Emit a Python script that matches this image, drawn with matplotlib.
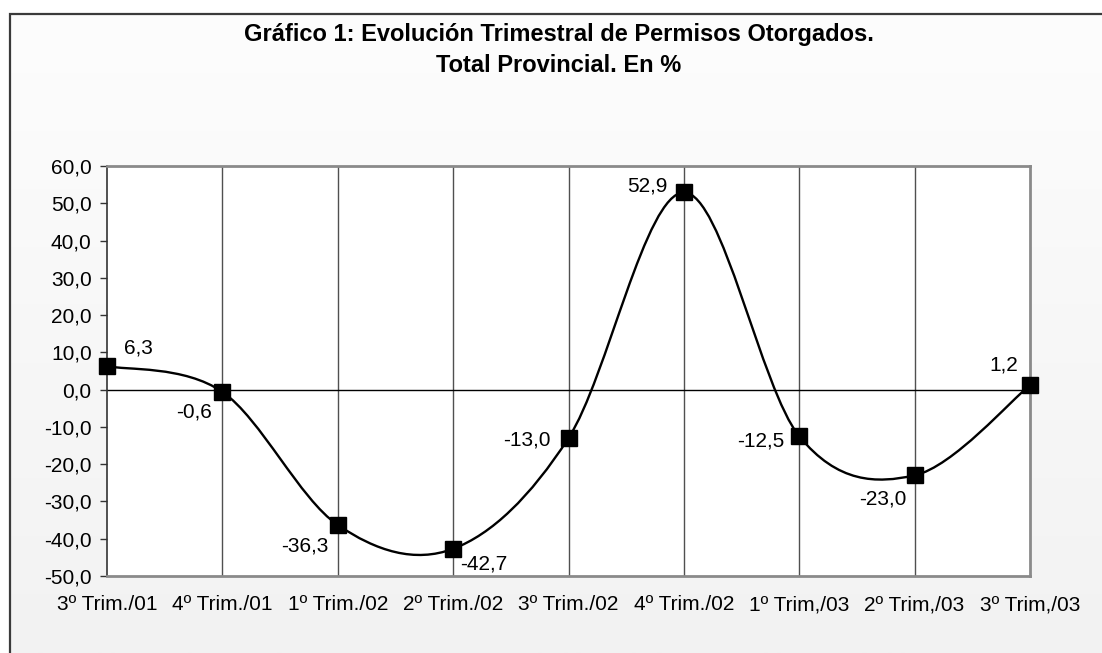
import numpy as np
import matplotlib
matplotlib.use("Agg")
import matplotlib.pyplot as plt
from matplotlib.path import Path
import matplotlib.patches as mpatches
from matplotlib.colors import LinearSegmentedColormap

plt.rcParams['font.family'] = ['Liberation Sans', 'DejaVu Sans']

# ---- data ----
categories = ["3º Trim./01", "4º Trim./01", "1º Trim./02", "2º Trim./02", "3º Trim./02",
              "4º Trim./02", "1º Trim,/03", "2º Trim,/03", "3º Trim,/03"]
values = [6.3, -0.6, -36.3, -42.7, -13.0, 52.9, -12.5, -23.0, 1.2]
y_ticks = [-50, -40, -30, -20, -10, 0, 10, 20, 30, 40, 50, 60]
title = "Gráfico 1: Evolución Trimestral de Permisos Otorgados.\nTotal Provincial. En %"

# label offsets (pixels) for data labels
label_offsets = [(31, 18), (-28, -20), (-33, -21), (31, -15), (-42, -2),
                 (-37, 6), (-39, -5), (-32, -24), (-26, 20)]

W, H = 1102, 653
fig = plt.figure(figsize=(W / 100, H / 100), dpi=100)
fig.patch.set_facecolor('white')

# background gradient inside outer border
bg = fig.add_axes([9 / W, 0, 1 - 9 / W, (H - 14) / H], zorder=-10)
grad = np.linspace(0, 1, 256).reshape(-1, 1)
cmap = LinearSegmentedColormap.from_list("g", ["#fdfdfd", "#f2f2f2"])
bg.imshow(grad, aspect='auto', cmap=cmap, extent=[0, 1, 0, 1], origin='upper')
bg.set_xlim(0, 1); bg.set_ylim(0, 1)
bg.axis('off')
# outer border (only left/top visible)
fig.add_artist(mpatches.Rectangle((9.5 / W, -0.1), 1.2, (H - 14.5) / H + 0.1,
                                  transform=fig.transFigure, fill=False,
                                  edgecolor='#3a3a3a', linewidth=1.6, zorder=5))

ax = fig.add_axes([107 / W, 1 - 576 / H, (1030 - 107) / W, (576 - 166) / H])
ax.set_facecolor('white')

n = len(values)
x = np.arange(n)
P = np.column_stack([x, values]).astype(float)
verts = [P[0]]
codes = [Path.MOVETO]
for i in range(n - 1):
    p0 = P[max(i - 1, 0)]
    p1 = P[i]
    p2 = P[i + 1]
    p3 = P[min(i + 2, n - 1)]
    c1 = p1 + (p2 - p0) / 6
    c2 = p2 - (p3 - p1) / 6
    verts += [c1, c2, p2]
    codes += [Path.CURVE4] * 3
curve = mpatches.PathPatch(Path(verts, codes), fill=False, edgecolor='black',
                           linewidth=1.7, zorder=4)
ax.add_patch(curve)
ax.plot(x, values, linestyle='none', marker='s', markersize=11,
        color='black', zorder=5, clip_on=False)

for i, v in enumerate(values):
    ax.annotate(f"{v:.1f}".replace('.', ','), (x[i], v),
                xytext=label_offsets[i], textcoords='offset pixels',
                ha='center', va='center', fontsize=15, color='black', zorder=6)

ax.set_xlim(0, n - 1)
ax.set_ylim(-50, 60)
ax.set_yticks(y_ticks)
ax.set_yticklabels([f"{t:.1f}".replace('.', ',') for t in y_ticks], fontsize=15)
ax.set_xticks(x)
ax.set_xticklabels(categories, fontsize=15)
ax.tick_params(axis='x', length=0, pad=14)
ax.tick_params(axis='y', length=5, width=1, color='#333333', pad=6, direction='out')

for xi in x[1:-1]:
    ax.axvline(xi, color='#505050', linewidth=1.0, zorder=1)
ax.axhline(0, color='black', linewidth=1.0, zorder=2)

for s in ['top', 'right', 'bottom']:
    ax.spines[s].set_color('#8a8a8a')
    ax.spines[s].set_linewidth(2.0)
ax.spines['left'].set_color('#333333')
ax.spines['left'].set_linewidth(1.2)

fig.text(559 / W, 1 - 50 / H, title, ha='center', va='center', fontsize=17,
         fontweight='bold', linespacing=1.4)

fig.savefig("out.png", dpi=100)
